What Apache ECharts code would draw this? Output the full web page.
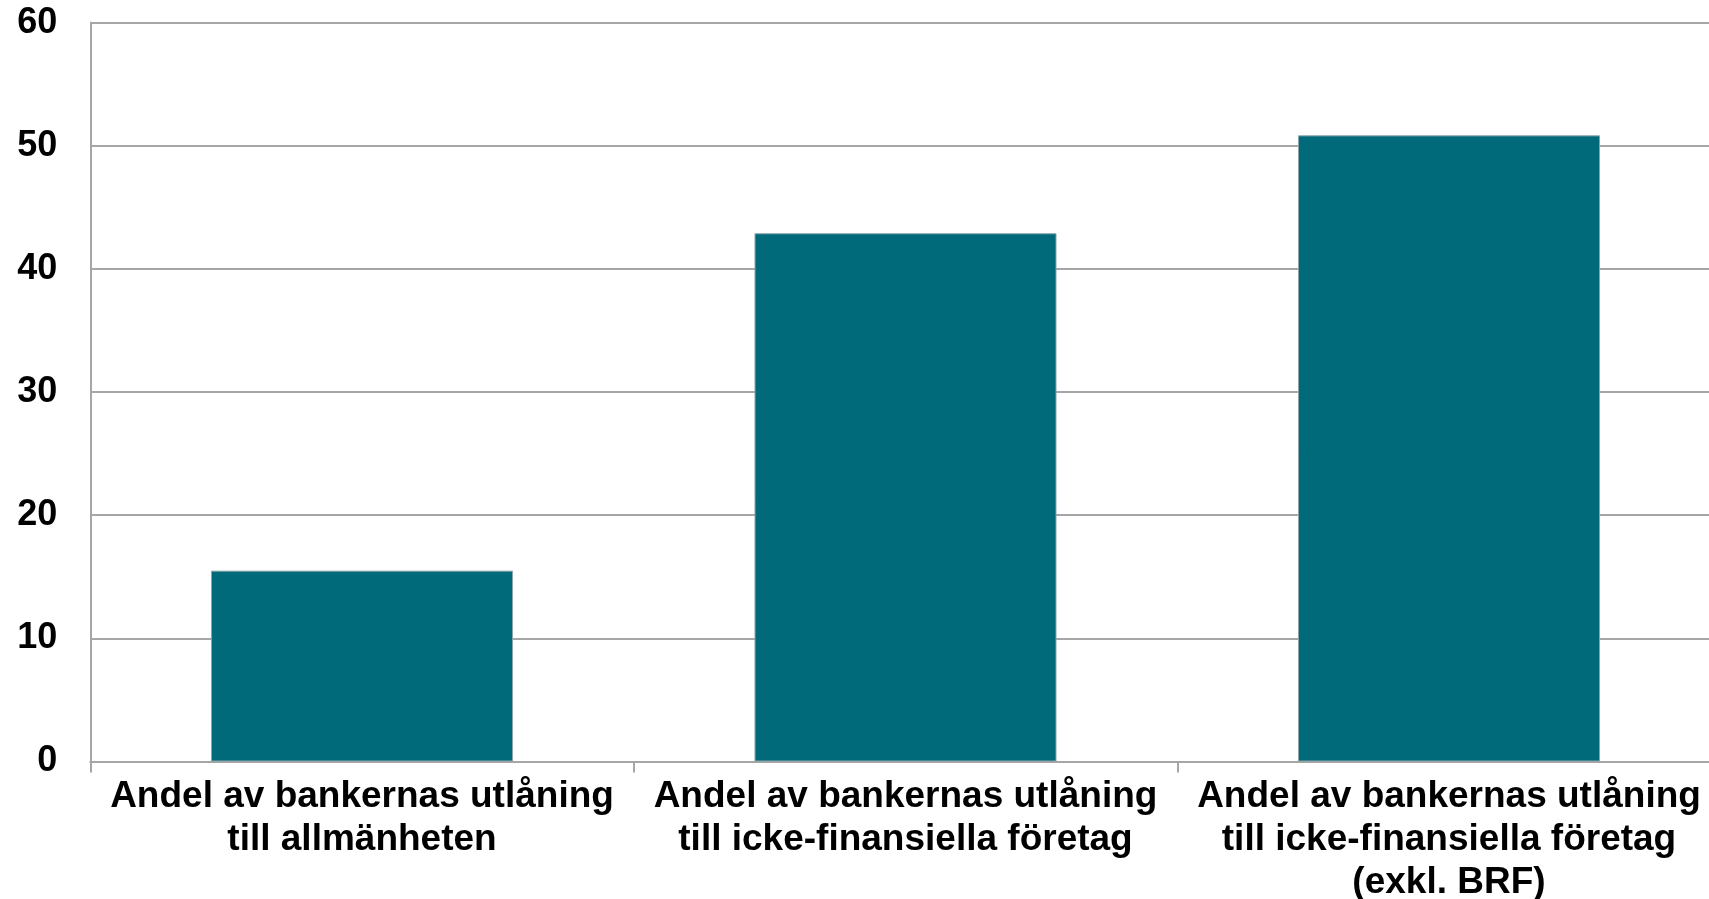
<!DOCTYPE html>
<html>
<head>
<meta charset="utf-8">
<script src="https://cdn.jsdelivr.net/npm/echarts@6/dist/echarts.min.js"></script>
<style>
html,body{margin:0;padding:0;background:#fff;}
#chart{width:1709px;height:899px;}
</style>
</head>
<body>
<div id="chart"></div>
<script>
const categories = [
  "Andel av bankernas utlåning\ntill allmänheten",
  "Andel av bankernas utlåning\ntill icke-finansiella företag",
  "Andel av bankernas utlåning\ntill icke-finansiella företag\n(exkl. BRF)"
];
const values = [15.5, 42.9, 50.85];
const yMin = 0, yMax = 60, yInterval = 10;

const chart = echarts.init(document.getElementById('chart'));
const font = '"Liberation Sans", Arial, Helvetica, sans-serif';
chart.setOption({
  animation: false,
  backgroundColor: '#ffffff',
  grid: { left: 90.25, width: 1630.5, top: 22.7, height: 738.8, containLabel: false, outerBoundsMode: 'none' },
  xAxis: {
    type: 'category',
    data: categories,
    axisLine: { show: true, lineStyle: { color: '#a6a6a6', width: 2 } },
    axisTick: { show: true, length: 11, alignWithLabel: false, lineStyle: { color: '#a6a6a6', width: 2 } },
    axisLabel: {
      interval: 0, margin: 14, color: '#000', fontFamily: font, fontWeight: 'bold',
      fontSize: 37, lineHeight: 43, align: 'center'
    },
    splitLine: { show: false }
  },
  yAxis: {
    type: 'value', min: yMin, max: yMax, interval: yInterval,
    axisLine: { show: true, lineStyle: { color: '#a6a6a6', width: 2 } },
    axisTick: { show: false },
    axisLabel: { margin: 33, color: '#000', fontFamily: font, fontWeight: 'bold', fontSize: 36 },
    splitLine: { show: true, lineStyle: { color: '#a6a6a6', width: 2 } }
  },
  series: [{
    type: 'bar',
    data: values,
    barWidth: 302,
    itemStyle: { color: '#016a7a', borderColor: '#8aa4a9', borderWidth: 1 }
  }]
});
</script>
</body>
</html>
